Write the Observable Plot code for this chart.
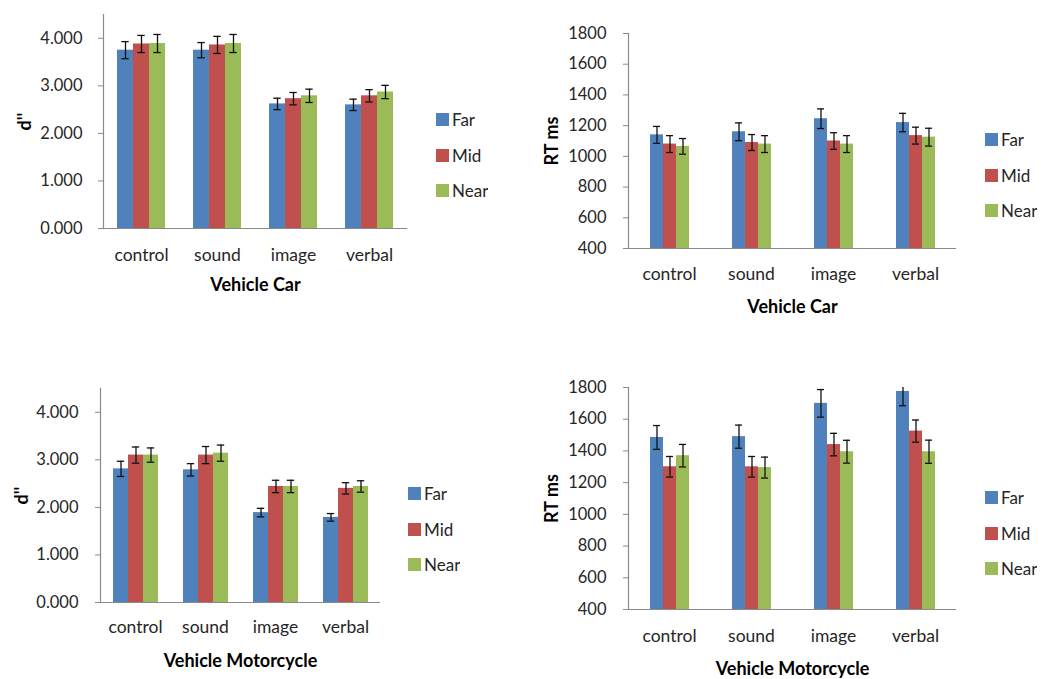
<!DOCTYPE html>
<html><head><meta charset="utf-8">
<script src="https://cdn.jsdelivr.net/npm/d3@7"></script>
<script src="https://cdn.jsdelivr.net/npm/@observablehq/plot@0.6"></script>
<style>
html,body{margin:0;padding:0;background:#fff;}
#root{position:relative;width:1044px;height:679px;overflow:hidden;font-family:Lato,sans-serif;background:#fff;}
.panel{position:absolute;}
.lg-swatches{font-family:Lato,sans-serif !important;font-size:17px !important;color:#262626;margin:0 !important;}
.lg-swatch{height:35.5px;padding:0 !important;display:flex;align-items:center;margin:0 !important;}
.lg-swatch > svg{margin-right:3px !important;}
</style></head><body><div id="root"></div>
<script>
// ---- data ----
const categories = ["control", "sound", "image", "verbal"];
const series = ["Far", "Mid", "Near"];
const seriesColors = ["#4F81BD", "#C0504D", "#9BBB59"];

const dTicks = [0, 1, 2, 3, 4];
const rtTicks = [400, 600, 800, 1000, 1200, 1400, 1600, 1800];

// d' — Vehicle Car
const dCarFar = [3.75, 3.75, 2.62, 2.60];
const dCarMid = [3.88, 3.86, 2.73, 2.79];
const dCarNear = [3.89, 3.89, 2.79, 2.87];
const dCarFarErr = [0.18, 0.16, 0.12, 0.12];
const dCarMidErr = [0.18, 0.18, 0.13, 0.13];
const dCarNearErr = [0.19, 0.19, 0.14, 0.14];

// RT — Vehicle Car
const rtCarFar = [1140, 1160, 1245, 1220];
const rtCarMid = [1080, 1090, 1100, 1135];
const rtCarNear = [1065, 1080, 1080, 1125];
const rtCarFarErr = [55, 58, 64, 60];
const rtCarMidErr = [55, 52, 54, 55];
const rtCarNearErr = [51, 55, 55, 58];

// d' — Vehicle Motorcycle
const dMotoFar = [2.81, 2.79, 1.89, 1.79];
const dMotoMid = [3.10, 3.10, 2.44, 2.40];
const dMotoNear = [3.10, 3.14, 2.44, 2.44];
const dMotoFarErr = [0.16, 0.13, 0.09, 0.08];
const dMotoMidErr = [0.17, 0.18, 0.13, 0.12];
const dMotoNearErr = [0.15, 0.17, 0.13, 0.12];

// RT — Vehicle Motorcycle
const rtMotoFar = [1485, 1490, 1700, 1775];
const rtMotoMid = [1300, 1300, 1440, 1525];
const rtMotoNear = [1370, 1295, 1395, 1395];
const rtMotoFarErr = [75, 73, 87, 90];
const rtMotoMidErr = [65, 65, 71, 70];
const rtMotoNearErr = [71, 66, 72, 73];

const xTitles = ["Vehicle Car", "Vehicle Motorcycle"];
const yTitles = ["d''", "RT ms"];

// ---- drawing ----
const root = document.getElementById("root");
const axisGray = "#8a8a8a";
const textColor = "#262626";

function makePanel(cfg) {
  const rows = [];
  series.forEach((s, j) => categories.forEach((c, i) =>
    rows.push({category: c, series: s, value: cfg.values[j][i], err: cfg.errors[j][i]})));
  const y0 = cfg.yDomain[0];
  const chart = Plot.plot({
    width: cfg.width, height: cfg.height,
    marginLeft: cfg.m[0], marginRight: cfg.m[1], marginTop: cfg.m[2], marginBottom: cfg.m[3],
    style: {fontFamily: "Lato, sans-serif", fontSize: "17px", color: textColor, background: "transparent", overflow: "visible"},
    fx: {domain: categories, padding: 0},
    x: {domain: series, padding: 0, insetLeft: cfg.inset, insetRight: cfg.inset, axis: null},
    y: {domain: cfg.yDomain},
    color: {domain: series, range: seriesColors},
    marks: [
      Plot.barY(rows, {fx: "category", x: "series", y1: y0, y2: "value", fill: "series"}),
      Plot.ruleX(rows, {fx: "category", x: "series", y1: d => d.value - d.err, y2: d => d.value + d.err, stroke: "#111", strokeWidth: 1.3, clip: true}),
      Plot.tickY(rows, {fx: "category", x: "series", y: d => d.value - d.err, inset: cfg.capInset, stroke: "#111", strokeWidth: 1.3, clip: true}),
      Plot.tickY(rows, {fx: "category", x: "series", y: d => d.value + d.err, inset: cfg.capInset, stroke: "#111", strokeWidth: 1.3, clip: true}),
      Plot.ruleY([y0], {stroke: axisGray, strokeWidth: 1.2}),
      Plot.frame({anchor: "left", stroke: axisGray, strokeWidth: 1.2, facetAnchor: "left"}),
      Plot.axisY({ticks: cfg.yTicks, tickFormat: cfg.yFormat, tickSize: 5, tickPadding: cfg.tickPad, stroke: axisGray, color: textColor, fill: textColor, fontSize: 16.5, label: null}),
      Plot.axisY({ticks: [], tickSize: 0, label: cfg.yTitle, labelAnchor: "center", labelArrow: "none", labelOffset: cfg.yLabelOffset, fontSize: 18, fontWeight: "bold", fill: "#000", color: "#000"}),
      Plot.axisFx({anchor: "bottom", tickSize: 0, tickPadding: cfg.catPad, fontSize: 17.5, fill: textColor, color: textColor, label: null}),
      Plot.axisFx({anchor: "bottom", ticks: [], tickSize: 0, label: cfg.xTitle, labelAnchor: "center", labelArrow: "none", labelOffset: cfg.xLabelOffset, fontSize: 18, fontWeight: "bold", fill: "#000", color: "#000"})
    ]
  });
  const wrap = document.createElement("div");
  wrap.className = "panel";
  wrap.style.left = cfg.left + "px";
  wrap.style.top = cfg.top + "px";
  wrap.appendChild(chart);
  root.appendChild(wrap);

  const legend = Plot.legend({color: {domain: series, range: seriesColors}, legend: "swatches", columns: 1, swatchSize: 13, className: "lg"});
  const lw = document.createElement("div");
  lw.className = "panel";
  lw.style.left = cfg.legendLeft + "px";
  lw.style.top = cfg.legendTop + "px";
  lw.style.width = "80px";
  lw.appendChild(legend);
  root.appendChild(lw);
}

const fmtD = d3.format(".3f");
const fmtRT = d3.format("d");

makePanel({
  values: [dCarFar, dCarMid, dCarNear], errors: [dCarFarErr, dCarMidErr, dCarNearErr],
  yDomain: [0, 4.5], yTicks: dTicks, yFormat: fmtD, yTitle: yTitles[0], xTitle: xTitles[0],
  left: 0, top: 0, width: 520, height: 300, m: [101, 112, 14, 72],
  inset: 13.4, capInset: 4.3, tickPad: 16, catPad: 20, yLabelOffset: 85, xLabelOffset: 62,
  legendLeft: 436, legendTop: 102
});
makePanel({
  values: [rtCarFar, rtCarMid, rtCarNear], errors: [rtCarFarErr, rtCarMidErr, rtCarNearErr],
  yDomain: [400, 1800], yTicks: rtTicks, yFormat: fmtRT, yTitle: yTitles[1], xTitle: xTitles[0],
  left: 520, top: 0, width: 524, height: 330, m: [107, 87, 33, 82],
  inset: 20.7, capInset: 3, tickPad: 17, catPad: 19, yLabelOffset: 83, xLabelOffset: 64,
  legendLeft: 985, legendTop: 122
});
makePanel({
  values: [dMotoFar, dMotoMid, dMotoNear], errors: [dMotoFarErr, dMotoMidErr, dMotoNearErr],
  yDomain: [0, 4.5], yTicks: dTicks, yFormat: fmtD, yTitle: yTitles[0], xTitle: xTitles[1],
  left: 0, top: 370, width: 520, height: 309, m: [100, 140, 18, 77],
  inset: 12, capInset: 3.8, tickPad: 17, catPad: 18, yLabelOffset: 85, xLabelOffset: 64,
  legendLeft: 408, legendTop: 476
});
makePanel({
  values: [rtMotoFar, rtMotoMid, rtMotoNear], errors: [rtMotoFarErr, rtMotoMidErr, rtMotoNearErr],
  yDomain: [400, 1800], yTicks: rtTicks, yFormat: fmtRT, yTitle: yTitles[1], xTitle: xTitles[1],
  left: 520, top: 370, width: 524, height: 309, m: [107, 87, 17, 70],
  inset: 20.7, capInset: 3, tickPad: 17, catPad: 20, yLabelOffset: 83, xLabelOffset: 65,
  legendLeft: 985, legendTop: 480
});
</script>
</body></html>
